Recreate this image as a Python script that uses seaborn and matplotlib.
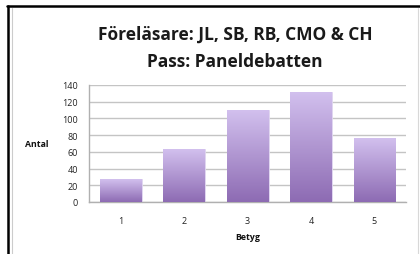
import numpy as np
import pandas as pd
import matplotlib
matplotlib.use("Agg")
import matplotlib.pyplot as plt
import seaborn as sns
from matplotlib.colors import LinearSegmentedColormap
from matplotlib.lines import Line2D

# Data
betyg = ["1", "2", "3", "4", "5"]
antal = [27, 63, 110, 131, 76]
title = "Föreläsare: JL, SB, RB, CMO & CH\nPass: Paneldebatten"

df = pd.DataFrame({"Betyg": betyg, "Antal": antal})

sns.set_theme(style="white")
plt.rcParams["font.family"] = ["Open Sans", "DejaVu Sans"]

fig = plt.figure(figsize=(4.2, 2.55), dpi=100)
ax = fig.add_axes([0.212, 0.204, 0.755, 0.459])

sns.barplot(data=df, x="Betyg", y="Antal", color="#b39ad8", width=0.66, ax=ax)
ax.set_ylim(0, 140)
ax.set_yticks(range(0, 141, 20))

# gradient fill: light lavender at top, darker purple at bottom
cmap = LinearSegmentedColormap.from_list("purp", ["#8d6bb3", "#d2c0ee"])
grad = np.linspace(0, 1, 256).reshape(-1, 1)
for bar in ax.patches:
    x0, w, h = bar.get_x(), bar.get_width(), bar.get_height()
    im = ax.imshow(grad, cmap=cmap, origin="lower", aspect="auto",
                   extent=[x0, x0 + w, 0, h], zorder=3)
    im.set_clip_path(bar)
    bar.set_edgecolor("#e2d8f2")
    bar.set_linewidth(0.6)
ax.set_xlim(-0.5, 4.5)
ax.set_ylim(0, 140)

ax.grid(axis="y", color="#c4c4c4", linewidth=1.0)
ax.set_axisbelow(True)
for s in ["top", "right"]:
    ax.spines[s].set_visible(False)
for s in ["left", "bottom"]:
    ax.spines[s].set_color("#b0b0b0")
    ax.spines[s].set_linewidth(1.0)

ax.tick_params(axis="y", labelsize=6.5, colors="#222222", length=0, pad=8)
ax.tick_params(axis="x", labelsize=6.5, colors="#222222", length=0, pad=10)
ax.set_xlabel("Betyg", fontsize=6.3, fontweight="bold", color="#111111", labelpad=5)
ax.set_ylabel("Antal", fontsize=6.3, fontweight="bold", color="#111111",
              rotation=0, labelpad=18, va="center")

fig.text(0.56, 0.81, title, ha="center", va="center", fontsize=12.5,
         fontweight="bold", color="#1a1a1a", linespacing=1.65)

# frame of the screenshot
fig.add_artist(Line2D([0.019, 0.019], [0, 0.972], color="black", lw=1.8, transform=fig.transFigure))
fig.add_artist(Line2D([0.017, 1.0], [0.972, 0.972], color="black", lw=1.8, transform=fig.transFigure))
fig.add_artist(Line2D([0.028, 0.028], [0, 0.965], color="#cccccc", lw=0.8, transform=fig.transFigure))
fig.add_artist(Line2D([0.995, 0.995], [0, 0.965], color="#d8d8d8", lw=0.8, transform=fig.transFigure))

fig.savefig("out.png", dpi=100)
